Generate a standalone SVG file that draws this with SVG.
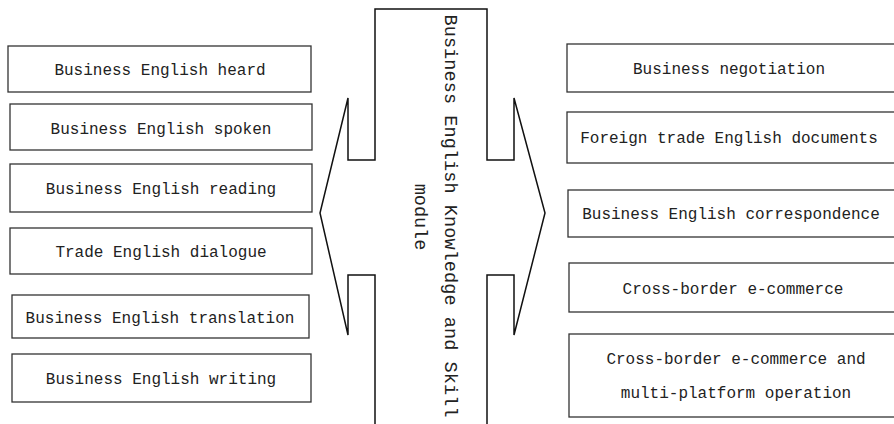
<svg xmlns="http://www.w3.org/2000/svg" width="894" height="424" viewBox="0 0 894 424">
<style>
.box{fill:#fff;stroke:#333;stroke-width:1.3}
.t{font-family:"Liberation Mono","DejaVu Sans Mono",monospace;font-size:16px;fill:#222;text-anchor:middle;dominant-baseline:central}
.c{font-family:"Liberation Mono","DejaVu Sans Mono",monospace;font-size:18.5px;fill:#222;text-anchor:middle}
.arrow{fill:#fff;stroke:#111;stroke-width:1.5;stroke-linejoin:miter}
</style>
<rect width="894" height="424" fill="#fff"/>
<g id="center">
<path class="arrow" d="M375,426 L375,275 L348,275 L348,335 L320,213 L348,98 L348,160 L375,160 L375,9 L487,9 L487,160 L514,160 L514,98 L545,213 L514,335 L514,275 L487,275 L487,426"/>
<text class="c" transform="translate(445,216) rotate(90)" textLength="403" lengthAdjust="spacing">Business English Knowledge and Skill</text>
<text class="c" transform="translate(415,217) rotate(90)">module</text>
</g>
<g id="l1"><rect class="box" x="8" y="46" width="303" height="46"/><text class="t" x="160" y="71">Business English heard</text></g>
<g id="l2"><rect class="box" x="10" y="104" width="302" height="46"/><text class="t" x="161" y="130">Business English spoken</text></g>
<g id="l3"><rect class="box" x="10" y="164" width="302" height="48"/><text class="t" x="161" y="190">Business English reading</text></g>
<g id="l4"><rect class="box" x="10" y="228" width="302" height="46"/><text class="t" x="161" y="253">Trade English dialogue</text></g>
<g id="l5"><rect class="box" x="12" y="295" width="297" height="43"/><text class="t" x="160" y="319">Business English translation</text></g>
<g id="l6"><rect class="box" x="12" y="354" width="299" height="48"/><text class="t" x="161" y="380">Business English writing</text></g>
<g id="r1"><rect class="box" x="567" y="44" width="330" height="48"/><text class="t" x="729" y="70">Business negotiation</text></g>
<g id="r2"><rect class="box" x="567" y="112" width="330" height="51"/><text class="t" x="729" y="139">Foreign trade English documents</text></g>
<g id="r3"><rect class="box" x="568" y="190" width="330" height="47"/><text class="t" x="731" y="215">Business English correspondence</text></g>
<g id="r4"><rect class="box" x="569" y="263" width="330" height="49"/><text class="t" x="733" y="290">Cross-border e-commerce</text></g>
<g id="r5"><rect class="box" x="569" y="334" width="330" height="83"/><text class="t" x="736" y="360">Cross-border e-commerce and</text><text class="t" x="736" y="394">multi-platform operation</text></g>
<g id="connectors"></g>
</svg>
